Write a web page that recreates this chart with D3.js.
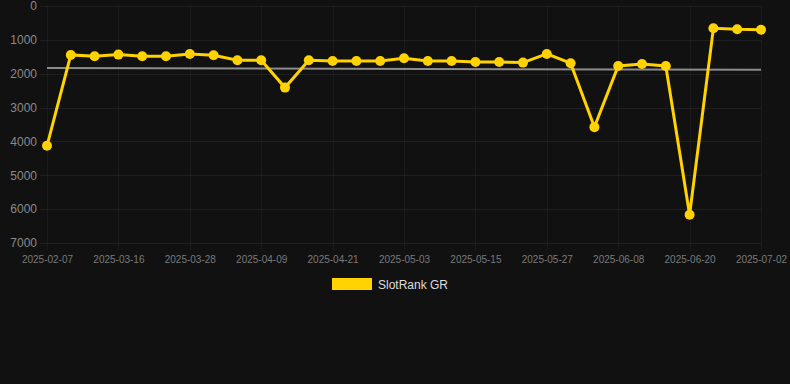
<!DOCTYPE html>
<html><head><meta charset="utf-8">
<script src="https://cdn.jsdelivr.net/npm/d3@7"></script>
<style>
html,body{margin:0;padding:0;background:#111111;}
svg{display:block;}
</style></head>
<body>
<svg id="c" width="790" height="384"></svg>
<script>
const categories = ["2025-02-07","2025-03-08","2025-03-12","2025-03-16","2025-03-20","2025-03-24","2025-03-28","2025-04-01","2025-04-05","2025-04-09","2025-04-13","2025-04-17","2025-04-21","2025-04-25","2025-04-29","2025-05-03","2025-05-07","2025-05-11","2025-05-15","2025-05-19","2025-05-23","2025-05-27","2025-05-31","2025-06-04","2025-06-08","2025-06-12","2025-06-16","2025-06-20","2025-06-24","2025-06-28","2025-07-02"];
const rankValues = [4130,1445,1484,1436,1484,1484,1416,1455,1602,1602,2410,1602,1622,1622,1622,1543,1622,1622,1652,1652,1672,1416,1690,3578,1770,1711,1770,6165,658,687,699];
const trendValues = [1830,1885];
const yTicks = [0,1000,2000,3000,4000,5000,6000,7000];
const xTickLabels = ["2025-02-07","2025-03-16","2025-03-28","2025-04-09","2025-04-21","2025-05-03","2025-05-15","2025-05-27","2025-06-08","2025-06-20","2025-07-02"];
const seriesName = "SlotRank GR";

(function () {
const svg = d3.select("#c");
const pl = 47, pr = 761, pt = 6, pb = 243;
const x = d3.scalePoint().domain(categories).range([pl, pr]);
const y = d3.scaleLinear().domain([0, 7000]).range([pt, pb]);
const color = "#ffd200";
const font = "'Liberation Sans', Arial, sans-serif";

// horizontal grid
svg.append("g").selectAll("line").data(yTicks).join("line")
  .attr("x1", pl - 7).attr("x2", pr)
  .attr("y1", d => Math.round(y(d)) + 0.5).attr("y2", d => Math.round(y(d)) + 0.5)
  .attr("stroke", "rgba(255,255,255,0.06)").attr("stroke-width", 1);
// vertical grid
svg.append("g").selectAll("line").data(xTickLabels).join("line")
  .attr("x1", d => Math.round(x(d)) + 0.5).attr("x2", d => Math.round(x(d)) + 0.5)
  .attr("y1", pt).attr("y2", pb + 7)
  .attr("stroke", "rgba(255,255,255,0.04)").attr("stroke-width", 1);

// y axis labels
const yAxis = svg.append("g").attr("transform", `translate(${pl - 10},0)`)
  .call(d3.axisLeft(y).tickValues(yTicks).tickSize(0).tickPadding(0).tickFormat(d3.format("d")));
yAxis.select(".domain").remove();
yAxis.selectAll("text").attr("fill", "#8a8a8a").style("font-family", font).style("font-size", "12px");

// x axis labels
const xAxis = svg.append("g").attr("transform", `translate(0,${pb + 10})`)
  .call(d3.axisBottom(x).tickValues(xTickLabels).tickSize(0).tickPadding(3));
xAxis.select(".domain").remove();
xAxis.selectAll("text").attr("fill", "#7a7a7a").style("font-family", font).style("font-size", "10px");

// trend line
svg.append("line")
  .attr("x1", x(categories[0])).attr("x2", x(categories[categories.length - 1]))
  .attr("y1", y(trendValues[0])).attr("y2", y(trendValues[1]))
  .attr("stroke", "#8c8c8c").attr("stroke-width", 2);

// series line
const line = d3.line().x((d, i) => x(categories[i])).y(d => y(d));
svg.append("path").datum(rankValues)
  .attr("d", line).attr("fill", "none")
  .attr("stroke", color).attr("stroke-width", 3).attr("stroke-linejoin", "miter");

svg.append("g").selectAll("circle").data(rankValues).join("circle")
  .attr("cx", (d, i) => x(categories[i])).attr("cy", d => y(d))
  .attr("r", 5).attr("fill", color);

// legend
const lg = svg.append("g");
lg.append("rect").attr("x", 332).attr("y", 278).attr("width", 40).attr("height", 12).attr("fill", color);
lg.append("text").attr("x", 378).attr("y", 288.5).text(seriesName)
  .attr("fill", "#dddddd").style("font-family", font).style("font-size", "12px");
})();
</script>
</body></html>
